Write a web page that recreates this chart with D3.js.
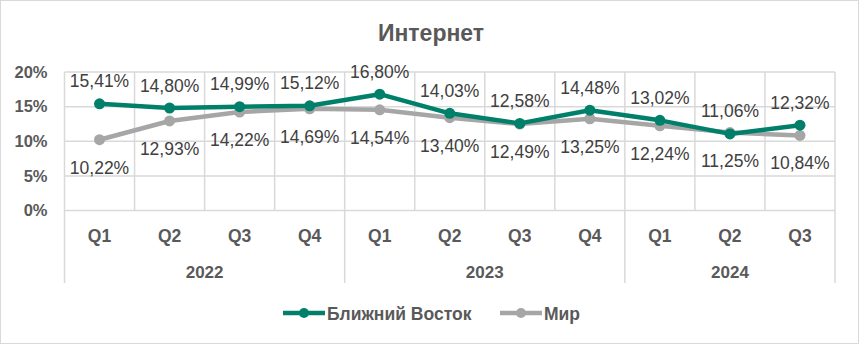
<!DOCTYPE html>
<html>
<head>
<meta charset="utf-8">
<script src="https://cdn.jsdelivr.net/npm/d3@7"></script>
<style>
  body { margin: 0; background: #ffffff; }
  svg { display: block; font-family: "Liberation Sans", Arial, sans-serif; }
</style>
</head>
<body>
<div id="chart"></div>
<script>
// данные графика
const quarters = ["Q1", "Q2", "Q3", "Q4", "Q1", "Q2", "Q3", "Q4", "Q1", "Q2", "Q3"];
const years = ["2022", "2022", "2022", "2022", "2023", "2023", "2023", "2023", "2024", "2024", "2024"];
const blizhniyVostok = [15.41, 14.80, 14.99, 15.12, 16.80, 14.03, 12.58, 14.48, 13.02, 11.06, 12.32];
const mir = [10.22, 12.93, 14.22, 14.69, 14.54, 13.40, 12.49, 13.25, 12.24, 11.25, 10.84];
const yTicks = [0, 5, 10, 15, 20];
const seriesNames = ["Ближний Восток", "Мир"];

const width = 861, height = 345;
const colorGreen = "#00806a";
const colorGray = "#a6a6a6";
const colorText = "#595959";
const colorGrid = "#d9d9d9";

const plotLeft = 64.5, plotRight = 835, plotTop = 72, plotBottom = 210.5;

const svg = d3.select("#chart").append("svg")
    .attr("width", width)
    .attr("height", height);

svg.append("rect")
    .attr("x", 0.5).attr("y", 0.5)
    .attr("width", width - 3).attr("height", height - 2)
    .attr("fill", "#ffffff")
    .attr("stroke", colorGrid)
    .attr("stroke-width", 1);

const idx = d3.range(quarters.length);
const x = d3.scaleBand().domain(idx).range([plotLeft, plotRight]).padding(0);
const y = d3.scaleLinear().domain([0, 20]).range([plotBottom, plotTop]);
const cx = i => x(i) + x.bandwidth() / 2;

// заголовок
svg.append("text")
    .text("Интернет")
    .attr("x", 431).attr("y", 41)
    .attr("text-anchor", "middle")
    .style("fill", colorText)
    .style("font-size", "23px")
    .style("font-weight", "bold");

// горизонтальная сетка
svg.append("g")
    .selectAll("line")
    .data(yTicks)
    .join("line")
    .attr("x1", plotLeft).attr("x2", plotRight)
    .attr("y1", d => y(d)).attr("y2", d => y(d))
    .attr("stroke", colorGrid)
    .attr("stroke-width", 1.5);

// ось Y
const yAxis = svg.append("g")
    .attr("transform", "translate(" + (plotLeft - 17) + ",0)")
    .call(d3.axisLeft(y).tickValues(yTicks).tickFormat(d => d + "%").tickSize(0).tickPadding(0));
yAxis.select(".domain").remove();
yAxis.selectAll("text")
    .style("fill", colorText)
    .style("font-size", "16.5px")
    .style("font-weight", "bold")
    .style("font-family", "'Liberation Sans', Arial, sans-serif");

// вертикальные линии категорий
const boundaries = d3.range(quarters.length + 1);
svg.append("g")
    .selectAll("line")
    .data(boundaries)
    .join("line")
    .attr("x1", d => plotLeft + d * x.bandwidth())
    .attr("x2", d => plotLeft + d * x.bandwidth())
    .attr("y1", plotTop)
    .attr("y2", d => (d === 0 || d === quarters.length || years[d] !== years[d - 1]) ? 283 : plotBottom)
    .attr("stroke", colorGrid)
    .attr("stroke-width", 1.5);

// подписи кварталов
svg.append("g")
    .selectAll("text")
    .data(idx)
    .join("text")
    .text(i => quarters[i])
    .attr("x", cx).attr("y", 241.5)
    .attr("text-anchor", "middle")
    .style("fill", colorText)
    .style("font-size", "17.5px")
    .style("font-weight", "bold");

// подписи годов
const yearGroups = d3.groups(idx, i => years[i]);
svg.append("g")
    .selectAll("text")
    .data(yearGroups)
    .join("text")
    .text(d => d[0])
    .attr("x", d => (x(d[1][0]) + x(d[1][d[1].length - 1]) + x.bandwidth()) / 2)
    .attr("y", 277.5)
    .attr("text-anchor", "middle")
    .style("fill", colorText)
    .style("font-size", "17px")
    .style("font-weight", "bold");

const line = d3.line().x((d, i) => cx(i)).y(d => y(d));
const fmt = v => v.toFixed(2).replace(".", ",") + "%";

function drawSeries(values, color) {
    const g = svg.append("g");
    g.append("path")
        .datum(values)
        .attr("d", line)
        .attr("fill", "none")
        .attr("stroke", color)
        .attr("stroke-width", 4.5)
        .attr("stroke-linejoin", "round");
    g.selectAll("circle")
        .data(values)
        .join("circle")
        .attr("cx", (d, i) => cx(i))
        .attr("cy", d => y(d))
        .attr("r", 5.5)
        .attr("fill", color);
    return g;
}

function drawLabels(values, labelDy) {
    svg.append("g")
        .selectAll("text")
        .data(values)
        .join("text")
        .text(fmt)
        .attr("x", (d, i) => cx(i))
        .attr("y", d => y(d) + labelDy)
        .attr("text-anchor", "middle")
        .style("fill", "#404040")
        .style("font-size", "17.5px");
}

drawSeries(mir, colorGray);
drawSeries(blizhniyVostok, colorGreen);
drawLabels(blizhniyVostok, -16.5);
drawLabels(mir, 34);

// легенда
const legend = [
    { name: seriesNames[0], color: colorGreen, x0: 283 },
    { name: seriesNames[1], color: colorGray, x0: 500 }
];
const lg = svg.append("g").selectAll("g").data(legend).join("g")
    .attr("transform", d => "translate(" + d.x0 + ",313)");
lg.append("line")
    .attr("x1", 0).attr("x2", 42)
    .attr("stroke", d => d.color)
    .attr("stroke-width", 4.5);
lg.append("circle")
    .attr("cx", 21).attr("r", 5)
    .attr("fill", d => d.color);
lg.append("text")
    .text(d => d.name)
    .attr("x", 44).attr("y", 6.5)
    .style("fill", colorText)
    .style("font-size", "17.5px")
    .style("font-weight", "bold");
</script>
</body>
</html>
